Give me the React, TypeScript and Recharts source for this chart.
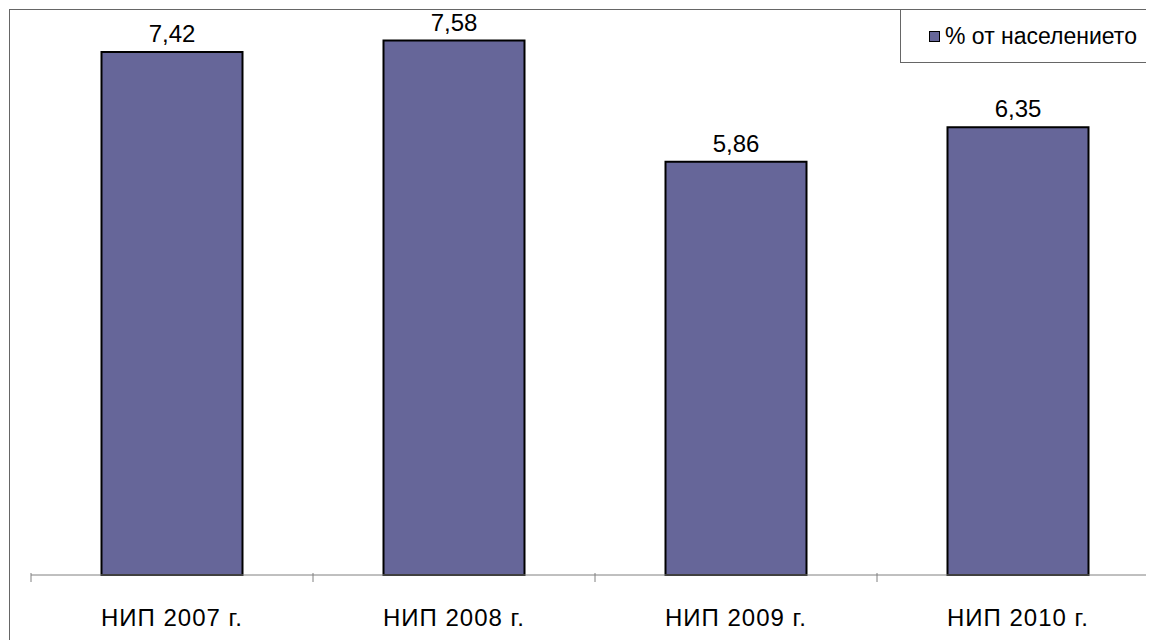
import { BarChart, Bar, XAxis, YAxis, LabelList } from 'recharts';

const CATEGORIES = ['НИП 2007 г.', 'НИП 2008 г.', 'НИП 2009 г.', 'НИП 2010 г.'];
const VALUES = [7.42, 7.58, 5.86, 6.35];
const SERIES_NAME = '% от населението';

const data = CATEGORIES.map((name, i) => ({ name, value: VALUES[i] }));

const FONT = '"Liberation Sans", Arial, sans-serif';

// tick mark sits on the category boundary, label in the middle
const CategoryTick = (props: any) => {
  const { x, y, payload, width } = props;
  const band = width / CATEGORIES.length;
  const left = x - band / 2;
  const axisY = y - 10;
  return (
    <g>
      <line x1={left} y1={axisY} x2={left} y2={axisY + 9} stroke="#808080" />
      {payload.index === CATEGORIES.length - 1 && (
        <line x1={x + band / 2} y1={axisY} x2={x + band / 2} y2={axisY + 9} stroke="#808080" />
      )}
      <text x={x} y={axisY + 53} textAnchor="middle" fontSize={24} letterSpacing={1} fontFamily={FONT} fill="#000">
        {payload.value}
      </text>
    </g>
  );
};

const App = () => {
  return (
    <div style={styles.wrapper}>
      <div style={styles.frame} />
      <BarChart
        width={1200}
        height={632}
        data={data}
        margin={{ top: 3, right: 49, bottom: 0, left: 23 }}
        barCategoryGap="25%"
        style={{ position: 'absolute', left: 0, top: 0 }}
      >
        <XAxis
          dataKey="name"
          height={65}
          stroke="#808080"
          tickLine={false}
          tick={<CategoryTick />}
          interval={0}
        />
        <YAxis hide domain={[0, 8]} />
        <Bar dataKey="value" name={SERIES_NAME} fill="#666699" stroke="#000" strokeWidth={2} isAnimationActive={false}>
          <LabelList
            dataKey="value"
            position="top"
            offset={10}
            fontSize={24}
            fontFamily={FONT}
            fill="#000"
            formatter={(v: any) => String(v).replace('.', ',')}
          />
        </Bar>
      </BarChart>
      <div style={styles.legend}>
        <span style={styles.legendSwatch} />
        <span>{SERIES_NAME}</span>
      </div>
    </div>
  );
};

const styles: Record<string, React.CSSProperties> = {
  wrapper: { position: 'relative', width: 1146, height: 632, overflow: 'hidden' },
  frame: { position: 'absolute', left: 1, top: 1, width: 1300, height: 700, border: '1px solid #666' },
  legend: {
    position: 'absolute', left: 892, top: 1,
    display: 'flex', alignItems: 'center', boxSizing: 'border-box', width: 270, height: 54,
    border: '1px solid #666', background: '#fff', paddingLeft: 28,
    fontFamily: FONT, fontSize: 23, color: '#000',
  },
  legendSwatch: {
    display: 'inline-block', width: 9, height: 9, background: '#666699',
    border: '1px solid #000', marginRight: 5,
  },
};

export default App;
